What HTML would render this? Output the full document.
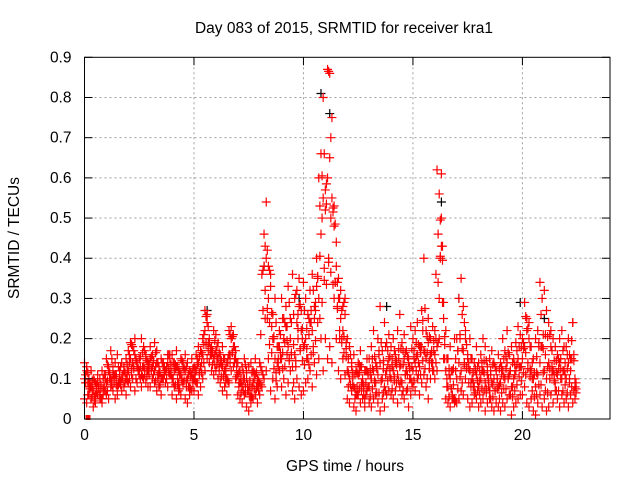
<!DOCTYPE html>
<html><head><meta charset="utf-8"><style>
body{margin:0;background:#fff}
svg text{font-family:"Liberation Sans",sans-serif;font-size:15.5px;fill:#000}
</style></head><body>
<svg id="chart" width="640" height="480" viewBox="0 0 640 480" xmlns="http://www.w3.org/2000/svg">
<rect width="640" height="480" fill="#fff"/>
<g id="grid"></g>
<g id="points"></g>
<g id="axes"></g>
<text x="344" y="33" text-anchor="middle">Day 083 of 2015, SRMTID for receiver kra1</text>
<text x="345" y="471" text-anchor="middle">GPS time / hours</text>
<text x="19" y="238" text-anchor="middle" transform="rotate(-90 19 238)">SRMTID / TECUs</text>
</svg>
<script>
const xTicks=[0,5,10,15,20];
const yTicks=[0,0.1,0.2,0.3,0.4,0.5,0.6,0.7,0.8,0.9];
const yTickLabels=["0","0.1","0.2","0.3","0.4","0.5","0.6","0.7","0.8","0.9"];
const timeStep=0.1;
const seriesA=[.14,.12,.10,.08,.07,.09,.11,.06,.05,.08,
.09,.12,.10,.13,.11,.08,.10,.14,.12,.10,
.12,.15,.18,.20,.14,.12,.11,.13,.16,.14,
.15,.13,.12,.14,.11,.10,.13,.12,.14,.16,
.10,.12,.13,.09,.11,.14,.12,.10,.08,.11,
.10,.12,.14,.13,.16,.22,.24,.20,.16,.15,
.17,.15,.14,.13,.12,.10,.16,.20,.18,.15,
.11,.09,.08,.10,.12,.07,.06,.09,.11,.08,
.09,.12,.38,.40,.30,.36,.20,.15,.18,.22,
.15,.20,.23,.18,.25,.13,.16,.32,.28,.22,
.18,.20,.15,.24,.22,.28,.33,.30,.46,.55,
.52,.60,.86,.75,.48,.44,.30,.25,.22,.30,
.12,.10,.14,.08,.06,.11,.13,.09,.05,.12,
.08,.10,.12,.09,.11,.14,.10,.08,.12,.15,
.10,.12,.14,.11,.13,.09,.15,.12,.14,.10,
.12,.14,.16,.13,.18,.17,.15,.19,.16,.14,
.16,.18,.30,.43,.25,.12,.08,.10,.06,.05,
.10,.14,.12,.17,.20,.15,.12,.10,.08,.11,
.08,.10,.12,.09,.11,.07,.09,.10,.12,.08,
.09,.12,.10,.14,.11,.08,.10,.12,.15,.13,
.15,.18,.22,.20,.12,.10,.08,.11,.14,.18,
.12,.10,.14,.18,.12,.09,.11,.14,.10,.12,
.10,.14,.12,.24,.08];
const seriesB=[.05,.04,.06,.05,.03,.04,.06,.05,.04,.07,
.06,.05,.08,.07,.05,.06,.09,.07,.08,.06,
.09,.08,.10,.07,.09,.11,.08,.10,.09,.08,
.08,.10,.09,.07,.08,.06,.10,.09,.08,.11,
.06,.08,.05,.07,.06,.09,.05,.04,.06,.07,
.07,.09,.06,.08,.10,.12,.15,.14,.12,.11,
.12,.10,.09,.07,.08,.06,.09,.12,.13,.10,
.06,.05,.04,.06,.03,.02,.04,.05,.06,.04,
.06,.08,.10,.12,.15,.07,.10,.05,.08,.12,
.08,.10,.06,.09,.12,.07,.05,.10,.08,.06,
.07,.09,.10,.12,.08,.14,.11,.15,.20,.12,
.20,.15,.18,.14,.30,.20,.12,.10,.15,.11,
.05,.04,.07,.03,.02,.06,.04,.05,.03,.07,
.04,.03,.05,.06,.04,.02,.05,.03,.06,.07,
.06,.05,.07,.04,.08,.06,.05,.07,.03,.06,
.08,.07,.10,.06,.09,.11,.08,.05,.10,.12,
.10,.12,.20,.50,.15,.05,.04,.03,.05,.04,
.04,.05,.07,.06,.10,.05,.03,.04,.06,.05,
.03,.04,.05,.02,.04,.05,.03,.02,.04,.03,
.02,.04,.03,.05,.06,.01,.03,.04,.05,.06,
.06,.08,.04,.03,.05,.02,.01,.04,.06,.03,
.05,.02,.03,.06,.04,.07,.05,.03,.06,.04,
.05,.03,.06,.04,.05];
const seriesC=[.10,.13,.08,.12,.10,.06,.09,.10,.12,.11,
.15,.13,.17,.11,.14,.16,.12,.10,.13,.15,
.17,.19,.14,.16,.13,.15,.20,.18,.15,.12,
.18,.16,.19,.17,.13,.15,.14,.12,.16,.15,
.16,.14,.17,.12,.15,.13,.16,.14,.12,.15,
.13,.16,.18,.17,.20,.27,.26,.19,.18,.22,
.21,.19,.16,.18,.15,.14,.22,.23,.21,.17,
.14,.12,.13,.15,.10,.13,.14,.12,.15,.10,
.14,.36,.46,.54,.38,.33,.26,.30,.14,.18,
.30,.25,.28,.33,.20,.36,.30,.24,.35,.27,
.34,.30,.26,.32,.36,.25,.40,.60,.66,.80,
.57,.87,.65,.55,.53,.38,.35,.32,.28,.26,
.20,.18,.13,.16,.12,.14,.17,.10,.12,.15,
.15,.18,.22,.14,.20,.28,.17,.24,.19,.21,
.18,.20,.16,.22,.26,.19,.21,.17,.15,.23,
.20,.22,.24,.18,.27,.40,.22,.25,.20,.23,
.22,.62,.56,.61,.29,.22,.15,.18,.12,.20,
.20,.30,.35,.28,.22,.16,.20,.15,.14,.18,
.14,.16,.20,.18,.13,.15,.17,.14,.12,.16,
.14,.20,.17,.22,.16,.18,.15,.19,.23,.21,
.20,.29,.25,.24,.18,.15,.20,.22,.34,.30,
.32,.27,.24,.22,.20,.18,.16,.20,.22,.18,
.18,.20,.15,.24,.10];
const blackTimes=[5.6,8.2,9.8,10.8,11.2,16.3,19.9,21.0,13.8,17.1];
const blackValues=[.27,.38,.30,.81,.76,.54,.29,.25,.28,.30];

const X0=84.5,X1=610,Y0=419,Y1=57.3,XMAX=24,YMAX=0.9;
const sx=v=>X0+(X1-X0)*v/XMAX;
const sy=v=>Y0-(Y0-Y1)*v/YMAX;
const NS="http://www.w3.org/2000/svg";
function mk(tag,attrs,parent){const e=document.createElementNS(NS,tag);for(const k in attrs)e.setAttribute(k,attrs[k]);parent.appendChild(e);return e;}
const grid=document.getElementById('grid'),axes=document.getElementById('axes'),pts=document.getElementById('points');

xTicks.forEach((t,i)=>{const x=sx(t);
 if(i>0){const g=mk('line',{x1:x,x2:x,y1:Y1,y2:Y0,stroke:'#a0a0a0','stroke-dasharray':'2,3'},grid);
 
 }
 mk('line',{x1:x,x2:x,y1:Y0,y2:Y0-8,stroke:'#000'},axes);
 mk('line',{x1:x,x2:x,y1:Y1,y2:Y1+8,stroke:'#000'},axes);
 const l=mk('text',{x:x,y:Y0+21,'text-anchor':'middle'},axes);l.textContent=t;
 
 
});
yTicks.forEach((t,i)=>{const y=sy(t);
 if(i>0&&i<yTicks.length-1){const g=mk('line',{x1:X0,x2:X1,y1:y,y2:y,stroke:'#a0a0a0','stroke-dasharray':'2,3'},grid);
 
 }
 mk('line',{x1:X0,x2:X0+8,y1:y,y2:y,stroke:'#000'},axes);
 mk('line',{x1:X1,x2:X1-8,y1:y,y2:y,stroke:'#000'},axes);
 const l=mk('text',{x:X0-13,y:y+5,'text-anchor':'end'},axes);l.textContent=yTickLabels[i];
 
 
});
const fr=mk('rect',{x:X0,y:Y1,width:X1-X0,height:Y0-Y1,fill:'none',stroke:'#000'},axes);



function plus(x,y,c){const p=mk('path',{d:`M${x-4.5},${y}h9M${x},${y-4.5}v9`,stroke:c,'stroke-width':1.2,fill:'none'},pts);
 
 }
blackTimes.forEach((t,i)=>plus(sx(t),sy(blackValues[i]),'#000'));
const all=[seriesA,seriesB,seriesC];
all.forEach((s,k)=>{const o=all[(k+1)%3];s.forEach((v,i)=>{
 const t=i*timeStep;
 plus(sx(t),sy(v),'#ff0000');
 const j=Math.min(o.length-1,i+1);
 plus(sx(t+timeStep*0.5),sy((v+o[j])/2),'#ff0000');
});});
const sq=mk('rect',{x:sx(0)+1,y:Y0-4,width:5,height:5,fill:'#ff0000'},pts);


</script>
</body></html>
